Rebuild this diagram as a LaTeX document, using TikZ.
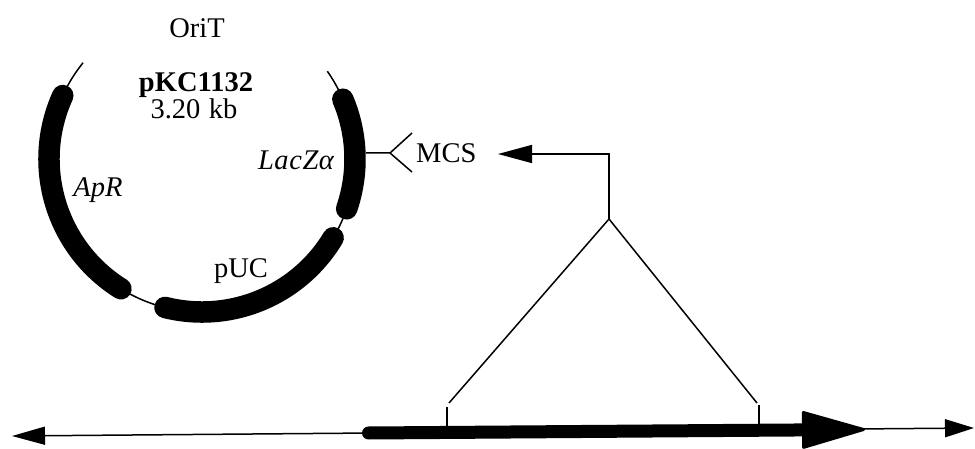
\documentclass[tikz,border=0pt]{standalone}
\usepackage{fontspec}
\setmainfont{Liberation Serif}
\usetikzlibrary{arrows.meta}
\begin{document}
\begin{tikzpicture}[x=1pt,y=1pt,
  thinline/.style={line width=1.5pt},
  gene/.style={line width=21.5pt, line cap=round},
  lbl/.style={font=\fontsize{28.5}{30}\selectfont, inner sep=0pt, anchor=base},
]
\useasboundingbox (0,0) rectangle (975,-449);

% ---------------- plasmid map ----------------
\coordinate (c) at (202,-159);
% backbone of the plasmid
\draw[thinline] ([shift={(141:153pt)}]c) arc[start angle=141, end angle=395, radius=153pt];
% genes
\draw[gene] ([shift={(155.5:153pt)}]c) arc[start angle=155.5, end angle=238, radius=153pt];
\draw[gene] ([shift={(256:153pt)}]c) arc[start angle=256, end angle=329, radius=153pt];
\draw[gene] ([shift={(341:153pt)}]c) arc[start angle=341, end angle=383, radius=153pt];

% labels
\node[lbl] (orit) at (197,-38) {OriT};
\node[lbl, font=\fontsize{28.5}{30}\selectfont\bfseries] (name) at (196,-92) {pKC1132};
\node[lbl] (size) at (194,-119) {3.20\hspace{0.3em}kb};
\node[lbl, font=\fontsize{28.5}{30}\selectfont\itshape] (lacz) at (296,-170) {\addfontfeature{LetterSpace=2}LacZα};
\node[lbl, font=\fontsize{28.5}{30}\selectfont\itshape] (apr) at (98,-197) {ApR};
\node[lbl] (puc) at (241,-277) {pUC};
\node[lbl, anchor=base west] (mcs) at (416,-163) {MCS};

% multiple cloning site fork
\coordinate (mcsroot) at (366,-153);
\coordinate (fork) at (390,-153);
\coordinate (forkup) at (412,-133);
\coordinate (forkdown) at (412,-172);
\draw[thinline] (mcsroot) -- (fork) -- (forkup);
\draw[thinline] (fork) -- (forkdown);

% ---------------- insert ----------------
\coordinate (apex) at (609,-219);
\coordinate (footL) at (449,-403);
\coordinate (footR) at (757,-403);
\coordinate (mcstip) at (498,-154);
\draw[thinline, -{Triangle[length=34pt,width=18pt]}] (apex) |- (mcstip);
\draw[thinline] (footL) -- (apex) -- (footR);

\coordinate (tickLtop) at (447,-407);
\coordinate (tickLbot) at (447,-427);
\coordinate (tickRtop) at (759,-405);
\coordinate (tickRbot) at (759,-424);
\draw[thinline] (tickLtop) -- (tickLbot);
\draw[thinline] (tickRtop) -- (tickRbot);

% ---------------- chromosome ----------------
\coordinate (chrL) at (12,-436);
\coordinate (chrR) at (974,-428);
\draw[thinline, {Triangle[length=33pt,width=18pt]}-{Triangle[length=29pt,width=18pt]}] (chrL) -- (chrR);

\coordinate (geneL) at (368.5,-433);
\coordinate (geneR) at (865,-429.5);
\draw[line width=13pt, line cap=round,
      -{Triangle[length=67pt,width=38pt,line width=3pt,round]}] (geneL) -- (geneR);
\end{tikzpicture}
\end{document}
